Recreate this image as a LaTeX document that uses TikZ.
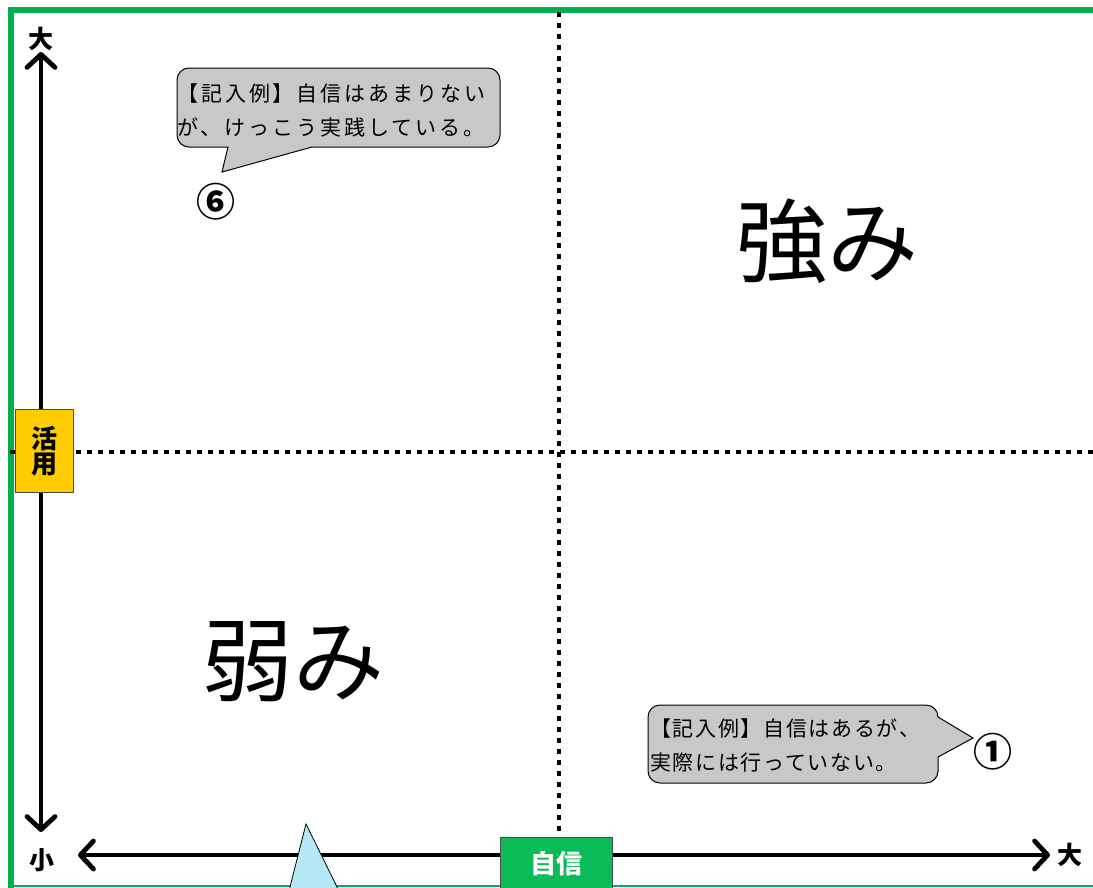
\documentclass[tikz,border=0pt]{standalone}
\usepackage{fontspec}
\newfontfamily\jp{Noto Sans CJK JP}
\newfontfamily\jpwide{Noto Sans CJK JP}[LetterSpace=14]
\newfontfamily\jpmid{Noto Sans CJK JP}[LetterSpace=8]
\usetikzlibrary{arrows.meta}
\definecolor{frameg}{RGB}{0,176,80}
\definecolor{boxg}{RGB}{11,187,87}
\definecolor{yel}{RGB}{255,204,0}
\definecolor{lblue}{RGB}{183,232,248}
\definecolor{callg}{RGB}{200,200,200}
\begin{document}
\begin{tikzpicture}[x=1pt,y=-1pt,
  framestyle/.style={draw=frameg,line width=6.5pt,line join=miter},
  dotline/.style={draw=black,line width=4.5pt,dash pattern=on 4.5pt off 6.5pt},
  axis/.style={draw=black,line width=4.8pt,{Straight Barb[length=13pt,width=28pt,round]}-{Straight Barb[length=13pt,width=28pt,round]}},
  axlabel/.style={inner sep=0pt,font=\jp\bfseries\fontsize{25}{25}\selectfont},
  bigword/.style={inner sep=0pt,font=\jp\fontsize{91}{91}\selectfont},
  tagbox/.style={draw=black!70,line width=0.8pt,inner sep=0pt,font=\jp\bfseries\fontsize{26}{28}\selectfont,align=center},
  callout/.style={draw=black,line width=1pt,fill=callg},
  calltext/.style={inner sep=0pt,anchor=west,align=left},
  circnum/.style={inner sep=0pt,font=\jp\bfseries\fontsize{39}{39}\selectfont}
]
\useasboundingbox (0,0) rectangle (1093,887);
\fill[white] (0,0) rectangle (1093,887);
% frame
\draw[framestyle] (11,895) -- (11,10) -- (1100,10);
\draw[frameg,line width=2pt] (8,886) -- (1093,886);
% dotted quadrant lines
\draw[dotline] (559,12) -- (559,838);
\draw[dotline] (10,452) -- (1093,452);
% axes
\coordinate (yhi) at (41,52);
\coordinate (ylo) at (41,832);
\coordinate (xlo) at (78,855);
\coordinate (xhi) at (1050,855);
\draw[axis] (ylo) -- (yhi);
\draw[axis] (xlo) -- (xhi);
\node[axlabel] (ytop) at (41,39) {大};
\node[axlabel] (ybot) at (42,860) {小};
\node[axlabel] (xright) at (1070,855) {大};
% tag boxes
\node[tagbox,fill=yel,minimum width=58pt,minimum height=83pt] (katsuyo) at (44,451) {活\\[-3pt]用};
\node[tagbox,fill=boxg,text=white,minimum width=112pt,minimum height=54pt] (jishin) at (556,864) {自信};
% triangle
\fill[lblue,draw=black,line width=0.8pt] (306,824) -- (339.5,892) -- (288.7,892) -- cycle;
% big words
\node[bigword] (tsuyomi) at (827,241) {強み};
\node[bigword] (yowami) at (293,662) {弱み};
% callout top-left
\path[callout] (228,147) -- (222,172) -- (312,147) -- (488,147)
  arc[start angle=90,end angle=0,radius=12] -- (500,80)
  arc[start angle=0,end angle=-90,radius=12] -- (189,68)
  arc[start angle=-90,end angle=-180,radius=12] -- (177,135)
  arc[start angle=180,end angle=90,radius=12] -- cycle;
\node[calltext,font=\jpwide\fontsize{21}{34}\selectfont] (ex6) at (177,110) {【記入例】自信はあまりない\\が、けっこう実践している。};
\node[circnum] (n6) at (216,202) {⑥};
% callout bottom-right
\path[callout] (938,757) -- (973,738) -- (938,717)
  arc[start angle=0,end angle=-90,radius=12] -- (660,705)
  arc[start angle=-90,end angle=-180,radius=12] -- (648,771)
  arc[start angle=180,end angle=90,radius=12] -- (926,783)
  arc[start angle=90,end angle=0,radius=12] -- cycle;
\node[calltext,font=\jpmid\fontsize{21}{34}\selectfont] (ex1) at (650,745) {【記入例】自信はあるが、\\実際には行っていない。};
\node[circnum] (n1) at (993,752) {①};
\end{tikzpicture}
\end{document}
